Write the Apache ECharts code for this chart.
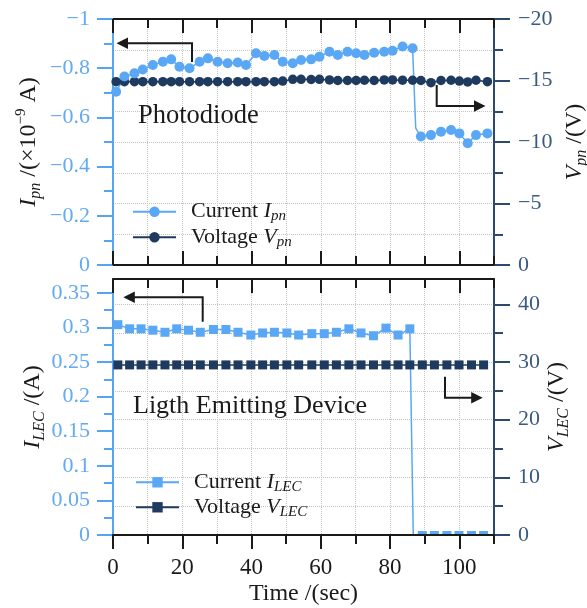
<!DOCTYPE html>
<html><head><meta charset="utf-8">
<script src="https://cdn.jsdelivr.net/npm/echarts@6.0.0/dist/echarts.min.js"></script>
<style>html,body{margin:0;padding:0;background:#fff}#c{width:587px;height:608px}</style>
</head><body><div id="c"></div>
<script>
// ---------- data ----------
const T_PN = [0.9, 3.3, 6.2, 8.6, 11.5, 14.4, 16.8, 19.2, 22.1, 25.0,
  27.4, 30.2, 33.1, 36.0, 38.4, 41.3, 43.7, 46.6, 49.0, 51.9,
  54.3, 57.2, 59.6, 62.5, 64.9, 67.7, 70.2, 72.6, 75.4, 78.3,
  80.7, 83.6, 86.5, 88.9, 91.8, 94.7, 97.6, 100.0, 102.4, 104.8, 108.1];
const I_PN = [-0.704, -0.766, -0.779, -0.795, -0.813, -0.826, -0.836, -0.806, -0.800, -0.826,
  -0.840, -0.826, -0.820, -0.823, -0.813, -0.861, -0.850, -0.854, -0.826, -0.820,
  -0.833, -0.836, -0.847, -0.867, -0.854, -0.867, -0.861, -0.854, -0.863, -0.867,
  -0.871, -0.888, -0.881, -0.522, -0.528, -0.542, -0.549, -0.535, -0.495, -0.528, -0.535];
const V_PN = [-14.9, -14.9, -14.9, -14.9, -14.9, -14.9, -14.9, -14.9, -14.9, -14.9,
  -14.9, -14.9, -14.9, -14.9, -14.9, -14.9, -14.9, -14.9, -14.95, -15.1,
  -15.1, -15.08, -15.1, -15.05, -15.0, -15.0, -15.0, -15.02, -15.0, -15.05,
  -15.05, -15.03, -15.02, -15.0, -14.82, -15.0, -15.02, -14.95, -14.88, -15.02, -14.9];
const DROP_PN = [87.4, -0.556];   // point on the falling edge (no marker)

const T_LEC = [1.4, 4.8, 8.1, 11.5, 15.0, 18.4, 21.8, 25.2, 29.0, 32.6,
  36.1, 39.8, 43.2, 46.6, 50.2, 53.6, 57.4, 61.0, 64.5, 68.1,
  71.6, 75.2, 78.8, 82.3, 85.7, 89.3, 92.8, 96.4, 99.9, 103.5, 107.0];
const I_LEC = [0.304, 0.298, 0.298, 0.296, 0.293, 0.298, 0.296, 0.293, 0.297, 0.297,
  0.293, 0.289, 0.292, 0.293, 0.292, 0.289, 0.291, 0.291, 0.293, 0.298,
  0.292, 0.288, 0.299, 0.289, 0.298, 0, 0, 0, 0, 0, 0];
const V_LEC = [29.5, 29.5, 29.5, 29.5, 29.5, 29.5, 29.5, 29.5, 29.5, 29.5,
  29.5, 29.5, 29.5, 29.5, 29.5, 29.5, 29.5, 29.5, 29.5, 29.5,
  29.5, 29.5, 29.5, 29.5, 29.5, 29.5, 29.5, 29.5, 29.5, 29.5, 29.5];
const DROP_LEC = [86.7, 0];

const X_MAJOR = [0, 20, 40, 60, 80, 100];
const IPN_TICKS = [-1, -0.8, -0.6, -0.4, -0.2, 0];
const VPN_TICKS = [-20, -15, -10, -5, 0];
const ILEC_TICKS = [0, 0.05, 0.1, 0.15, 0.2, 0.25, 0.3, 0.35];
const ILEC_MINOR = [0.025, 0.075, 0.125, 0.175, 0.225, 0.275, 0.325];
const VLEC_TICKS = [0, 10, 20, 30, 40];
const VLEC_MINOR = [5, 15, 25, 35];

const NAMES = ['Current Ipn', 'Voltage Vpn', 'Current ILEC', 'Voltage VLEC'];
const LEGEND_TEXT = {
  'Current Ipn': 'Current {i|I}{s|pn}',
  'Voltage Vpn': 'Voltage {i|V}{s|pn}',
  'Current ILEC': 'Current {i|I}{s|LEC}',
  'Voltage VLEC': 'Voltage {i|V}{s|LEC}'
};

// ---------- styles ----------
const FONT = 'Liberation Serif';
const LIGHT = '#5aa8f5', DARK = '#1f3a5f';
const LEFT_AX = '#56a5f5', LEFT_LBL = '#62aaf2';
const RIGHT_AX = '#2d4a6d', RIGHT_LBL = '#3a5a80';
const INK = '#1a1a1a', GRIDC = '#c4c4c4';

function fmt(v) {
  const r = Math.round(v * 1e4) / 1e4;
  if (r === 0) return '0';
  return (r < 0 ? '\u2212' : '') + String(Math.abs(r));
}
function onlyIn(list) {
  return v => list.some(x => Math.abs(x - v) < 1e-9) ? fmt(v) : '';
}

const nameRich = {
  i: {fontFamily: FONT, fontStyle: 'italic', fontSize: 24, lineHeight: 30, color: INK},
  s: {fontFamily: FONT, fontStyle: 'italic', fontSize: 16, lineHeight: 18, verticalAlign: 'bottom', color: INK},
  sup: {fontFamily: FONT, fontSize: 15, lineHeight: 15, verticalAlign: 'top', color: INK},
  r: {fontFamily: FONT, fontSize: 24, lineHeight: 30, color: INK}
};
const legRich = {
  i: {fontFamily: FONT, fontStyle: 'italic', fontSize: 22, lineHeight: 24, color: INK},
  s: {fontFamily: FONT, fontStyle: 'italic', fontSize: 15, lineHeight: 15, verticalAlign: 'bottom', color: INK}
};
function yName(text, gap) {
  return {name: text, nameLocation: 'middle', nameRotate: 90, nameGap: gap, nameMoveOverlap: false,
    nameTextStyle: {fontFamily: FONT, fontSize: 24, lineHeight: 30, color: INK, rich: nameRich}};
}

// ---------- data for series ----------
const ipnData = T_PN.map((t, i) => [t, I_PN[i]]);
ipnData.splice(33, 0, {value: DROP_PN, symbol: 'none'});
const vpnData = T_PN.map((t, i) => [t, V_PN[i]]);
const ilecData = T_LEC.map((t, i) => I_LEC[i] === 0
  ? {value: [t, 0], symbolSize: [9, 4], symbolOffset: [0, -2]}
  : [t, I_LEC[i]]);
ilecData.splice(25, 0, {value: DROP_LEC, symbol: 'none'});
const vlecData = T_LEC.map((t, i) => [t, V_LEC[i]]);

const G_TOP = {left: 113, right: 93, top: 19, height: 246, outerBoundsMode: 'none', containLabel: false};
const G_BOT = {left: 113, right: 93, top: 279, height: 256, outerBoundsMode: 'none', containLabel: false};

const inkLine = {color: INK, width: 2};
function xMain(grid, pos, inside, extra) {
  return Object.assign({
    type: 'value', gridIndex: grid, position: pos, min: 0, max: 110, interval: 20,
    axisLine: {show: true, onZero: false, lineStyle: inkLine},
    axisTick: {show: true, inside: inside, length: 14, customValues: X_MAJOR, lineStyle: inkLine},
    axisLabel: {show: false}, splitLine: {show: false}, minorTick: {show: false}
  }, extra || {});
}
function xMinor(grid, pos, inside, split) {
  return {
    type: 'value', gridIndex: grid, position: pos, min: 0, max: 110, interval: 10,
    axisLine: {show: false, onZero: false},
    axisTick: {show: true, inside: inside, length: 9, lineStyle: inkLine},
    axisLabel: {show: false},
    splitLine: {show: split, lineStyle: {color: GRIDC, type: 'dotted', width: 1}}
  };
}

const option = {
  animation: false,
  backgroundColor: '#fff',
  grid: [G_TOP, G_BOT, Object.assign({}, G_TOP), Object.assign({}, G_BOT)],
  xAxis: [
    xMain(0, 'bottom', true),
    xMain(0, 'top', true),
    xMain(1, 'bottom', false, {
      z: 3,
      axisLabel: {show: true, customValues: X_MAJOR, formatter: onlyIn(X_MAJOR),
        fontFamily: FONT, fontSize: 23, color: INK, margin: 21},
      name: 'Time /(sec)', nameLocation: 'middle', nameGap: 47, nameMoveOverlap: false,
      nameTextStyle: {fontFamily: FONT, fontSize: 24, color: INK}
    }),
    xMain(1, 'top', true),
    xMinor(2, 'bottom', true, true),
    xMinor(2, 'top', true, false),
    xMinor(3, 'bottom', false, true),
    xMinor(3, 'top', true, false)
  ],
  yAxis: [
    Object.assign({
      type: 'value', gridIndex: 0, position: 'left', min: -1, max: 0, inverse: true, interval: 0.2,
      axisLine: {show: true, onZero: false, lineStyle: {color: LEFT_AX, width: 2}},
      axisTick: {show: true, length: 16, lineStyle: {color: LEFT_AX, width: 2}},
      minorTick: {show: true, splitNumber: 2, length: 9, lineStyle: {color: LEFT_AX, width: 2}},
      axisLabel: {color: LEFT_LBL, fontFamily: FONT, fontSize: 22, margin: 23, formatter: onlyIn(IPN_TICKS)},
      splitLine: {show: false}
    }, yName('{i|I}{s|pn}{r| /(×10}{sup|\u22129}{r| A)}', 69)),
    Object.assign({
      type: 'value', gridIndex: 0, position: 'right', min: -20, max: 0, inverse: true, interval: 5,
      axisLine: {show: true, onZero: false, lineStyle: {color: RIGHT_AX, width: 2}},
      axisTick: {show: true, length: 16, lineStyle: {color: RIGHT_AX, width: 2}},
      minorTick: {show: true, splitNumber: 2, length: 9, lineStyle: {color: RIGHT_AX, width: 2}},
      axisLabel: {color: RIGHT_LBL, fontFamily: FONT, fontSize: 22, margin: 24, formatter: onlyIn(VPN_TICKS)},
      splitLine: {show: true, lineStyle: {color: GRIDC, type: 'dotted', width: 1}},
      minorSplitLine: {show: true, lineStyle: {color: GRIDC, type: 'dotted', width: 1}}
    }, yName('{i|V}{s|pn}{r| /(V)}', 66)),
    Object.assign({
      type: 'value', gridIndex: 1, position: 'left', min: 0, max: 0.37, interval: 0.05,
      axisLine: {show: true, onZero: false, lineStyle: {color: LEFT_AX, width: 2}},
      axisTick: {show: true, length: 16, customValues: ILEC_TICKS, lineStyle: {color: LEFT_AX, width: 2}},
      axisLabel: {color: LEFT_LBL, fontFamily: FONT, fontSize: 22, margin: 23, customValues: ILEC_TICKS,
        formatter: onlyIn(ILEC_TICKS)},
      splitLine: {show: false}
    }, yName('{i|I}{s|LEC}{r| /(A)}', 65)),
    Object.assign({
      type: 'value', gridIndex: 1, position: 'right', min: 0, max: 44.4, interval: 10,
      axisLine: {show: true, onZero: false, lineStyle: {color: RIGHT_AX, width: 2}},
      axisTick: {show: true, length: 16, customValues: VLEC_TICKS, lineStyle: {color: RIGHT_AX, width: 2}},
      axisLabel: {color: RIGHT_LBL, fontFamily: FONT, fontSize: 22, margin: 24, customValues: VLEC_TICKS,
        formatter: onlyIn(VLEC_TICKS)},
      splitLine: {show: true, lineStyle: {color: GRIDC, type: 'dotted', width: 1}}
    }, yName('{i|V}{s|LEC}{r| /(V)}', 48)),
    {type: 'value', gridIndex: 2, show: false, min: 0, max: 1},
    {type: 'value', gridIndex: 3, position: 'left', min: 0, max: 0.37,
      axisLine: {show: false, onZero: false},
      axisTick: {show: true, length: 9, customValues: ILEC_MINOR, lineStyle: {color: LEFT_AX, width: 2}},
      axisLabel: {show: false}, splitLine: {show: false}},
    {type: 'value', gridIndex: 3, position: 'right', min: 0, max: 44.4, interval: 5,
      axisLine: {show: false, onZero: false},
      axisTick: {show: true, length: 9, customValues: VLEC_MINOR, lineStyle: {color: RIGHT_AX, width: 2}},
      axisLabel: {show: false},
      splitLine: {show: true, lineStyle: {color: GRIDC, type: 'dotted', width: 1}}}
  ],
  legend: [
    [NAMES[0], 199.7, 132], [NAMES[1], 225.3, 132], [NAMES[2], 470.3, 135], [NAMES[3], 495.3, 135]
  ].map(([n, top, left]) => ({
    data: [n], top: top, left: left, orient: 'vertical', padding: 0,
    itemWidth: 43, itemHeight: 13, selectedMode: false,
    formatter: name => LEGEND_TEXT[name],
    textStyle: {fontFamily: FONT, fontSize: 22, lineHeight: 24, color: INK, padding: [0, 0, 0, 10], rich: legRich}
  })),
  series: [
    {type: 'line', name: NAMES[1], xAxisIndex: 0, yAxisIndex: 1, data: vpnData,
      symbol: 'circle', symbolSize: 9.5, lineStyle: {color: DARK, width: 1.5}, itemStyle: {color: DARK}, z: 2},
    {type: 'line', name: NAMES[0], xAxisIndex: 0, yAxisIndex: 0, data: ipnData,
      symbol: 'circle', symbolSize: 10, lineStyle: {color: LIGHT, width: 1.5}, itemStyle: {color: LIGHT}, z: 2},
    {type: 'line', name: NAMES[3], xAxisIndex: 2, yAxisIndex: 3, data: vlecData,
      symbol: 'rect', symbolSize: 9, lineStyle: {color: DARK, width: 1.5}, itemStyle: {color: DARK}, z: 2},
    {type: 'line', name: NAMES[2], xAxisIndex: 2, yAxisIndex: 2, data: ilecData,
      symbol: 'rect', symbolSize: 9, lineStyle: {color: LIGHT, width: 1.5}, itemStyle: {color: LIGHT}, z: 2}
  ],
  graphic: [
    {type: 'polyline', z: 100, shape: {points: [[192, 62], [192, 43.3], [126, 43.3]]}, style: {stroke: INK, lineWidth: 2, fill: null}},
    {type: 'polygon', z: 100, shape: {points: [[116.5, 43.3], [128, 37.5], [128, 49.1]]}, style: {fill: INK}},
    {type: 'polyline', z: 100, shape: {points: [[436.7, 85], [436.7, 106], [476, 106]]}, style: {stroke: INK, lineWidth: 2, fill: null}},
    {type: 'polygon', z: 100, shape: {points: [[485.5, 106], [474, 100.2], [474, 111.8]]}, style: {fill: INK}},
    {type: 'polyline', z: 100, shape: {points: [[202.7, 321.7], [202.7, 297.3], [133, 297.3]]}, style: {stroke: INK, lineWidth: 2, fill: null}},
    {type: 'polygon', z: 100, shape: {points: [[123.3, 297.3], [134.8, 291.5], [134.8, 303.1]]}, style: {fill: INK}},
    {type: 'polyline', z: 100, shape: {points: [[445, 376.7], [445, 397.7], [473, 397.7]]}, style: {stroke: INK, lineWidth: 2, fill: null}},
    {type: 'polygon', z: 100, shape: {points: [[482.7, 397.7], [471.2, 391.9], [471.2, 403.5]]}, style: {fill: INK}},
    {type: 'text', z: 100, x: 138, y: 116.5, style: {text: 'Photodiode', fontSize: 26.5, fontFamily: FONT, fill: INK, align: 'left', verticalAlign: 'middle'}},
    {type: 'text', z: 100, x: 133, y: 406.5, style: {text: 'Ligth Emitting Device', fontSize: 26, fontFamily: FONT, fill: INK, align: 'left', verticalAlign: 'middle'}}
  ]
};

const chart = echarts.init(document.getElementById('c'), null, {renderer: 'canvas'});
chart.setOption(option);
</script></body></html>
